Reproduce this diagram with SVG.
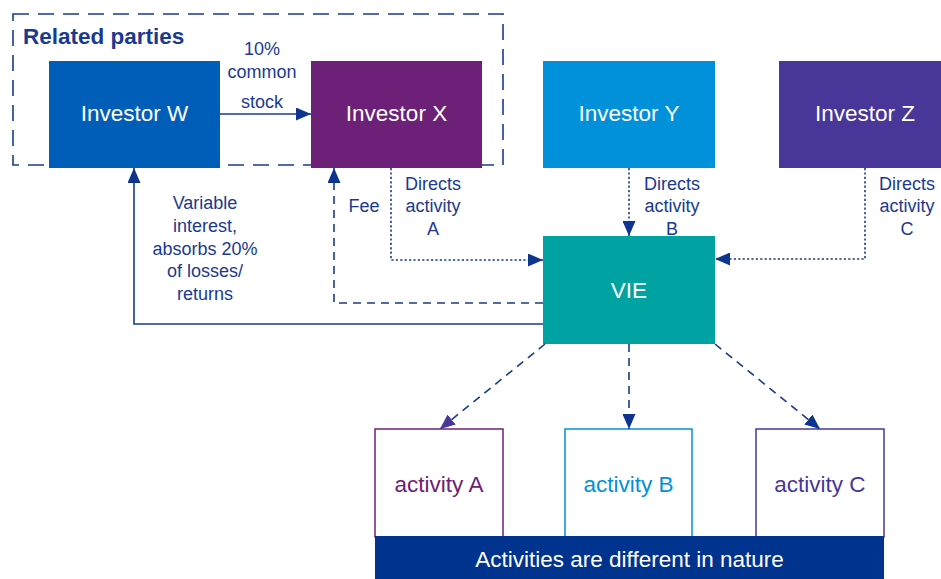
<svg xmlns="http://www.w3.org/2000/svg" width="941" height="579" viewBox="0 0 941 579">
<style>
text{font-family:"Liberation Sans",Arial,sans-serif}
.box{font-size:22.5px;fill:#fff;text-anchor:middle}
.lbl{font-size:18px;fill:#1a3a8f;text-anchor:middle}
.act{font-size:22.5px;text-anchor:middle}
.ln{fill:none;stroke:#1a3a8f;stroke-width:1.6}
.dot{stroke-dasharray:2.2 2.2}
.dash{stroke-dasharray:8 6}
</style>
<defs>
<marker id="ah" markerUnits="userSpaceOnUse" markerWidth="15" markerHeight="13" refX="15" refY="6.5" orient="auto"><path d="M0,0L15,6.5L0,13z" fill="#0d3590"/></marker>
<marker id="ahp" markerUnits="userSpaceOnUse" markerWidth="15" markerHeight="13" refX="15" refY="6.5" orient="auto"><path d="M0,0L15,6.5L0,13z" fill="#483698"/></marker>
</defs>
<rect x="13" y="14" width="490" height="151" fill="none" stroke="#1a3a8f" stroke-width="1.6" stroke-dasharray="16 9"/>
<text x="23" y="44" font-size="22.5" font-weight="bold" fill="#1a3a8f">Related parties</text>
<g id="investorW"><rect x="49" y="61" width="171" height="107" fill="#005eb8"/><text class="box" x="134.5" y="121">Investor W</text></g>
<g id="investorX"><rect x="311" y="61" width="171" height="107" fill="#6d2077"/><text class="box" x="396.5" y="121">Investor X</text></g>
<g id="investorY"><rect x="543" y="61" width="172" height="107" fill="#0091da"/><text class="box" x="629" y="121">Investor Y</text></g>
<g id="investorZ"><rect x="779" y="61" width="162" height="107" fill="#483698"/><text class="box" x="865" y="121">Investor Z</text></g>
<g id="vie"><rect x="543" y="236" width="172" height="108" fill="#00a3a1"/><text class="box" x="629" y="298">VIE</text></g>
<g id="activityA"><rect x="375" y="429" width="128" height="108" fill="#fff" stroke="#6d2077" stroke-width="1.5"/><text class="act" x="439" y="492" fill="#6d2077">activity A</text></g>
<g id="activityB"><rect x="565" y="429" width="127" height="108" fill="#fff" stroke="#0091da" stroke-width="1.5"/><text class="act" x="628.5" y="492" fill="#0091da">activity B</text></g>
<g id="activityC"><rect x="756" y="429" width="128" height="108" fill="#fff" stroke="#483698" stroke-width="1.5"/><text class="act" x="820" y="492" fill="#483698">activity C</text></g>
<g id="nature"><rect x="375" y="536" width="509" height="43" fill="#00338d"/><text class="box" x="629.5" y="567">Activities are different in nature</text></g>
<g id="connectors">
<path class="ln" d="M220,114H311" marker-end="url(#ah)"/>
<path class="ln" d="M543,324H134V168" marker-end="url(#ah)"/>
<path class="ln dash" d="M543,303H334V168" marker-end="url(#ah)"/>
<path class="ln dot" d="M391,168V260H543" marker-end="url(#ah)"/>
<path class="ln dot" d="M629,168V236" marker-end="url(#ah)"/>
<path class="ln dot" d="M865,168V259H715" marker-end="url(#ah)"/>
<path class="ln dash" d="M545,344L440,429" stroke="#483698" marker-end="url(#ahp)"/>
<path class="ln dash" d="M629,344V429" marker-end="url(#ah)"/>
<path class="ln dash" d="M715,344L820,429" marker-end="url(#ah)"/>
<text class="lbl" x="262" y="55">10%</text>
<text class="lbl" x="262" y="78">common</text>
<text class="lbl" x="262" y="108">stock</text>
<text class="lbl" x="205" y="209">Variable</text>
<text class="lbl" x="205" y="232">interest,</text>
<text class="lbl" x="205" y="255">absorbs 20%</text>
<text class="lbl" x="205" y="277">of losses/</text>
<text class="lbl" x="205" y="300">returns</text>
<text class="lbl" x="364" y="212">Fee</text>
<text class="lbl" x="433" y="190">Directs</text>
<text class="lbl" x="433" y="212">activity</text>
<text class="lbl" x="433" y="235">A</text>
<text class="lbl" x="672" y="190">Directs</text>
<text class="lbl" x="672" y="212">activity</text>
<text class="lbl" x="672" y="235">B</text>
<text class="lbl" x="907" y="190">Directs</text>
<text class="lbl" x="907" y="212">activity</text>
<text class="lbl" x="907" y="235">C</text>
</g>
</svg>
